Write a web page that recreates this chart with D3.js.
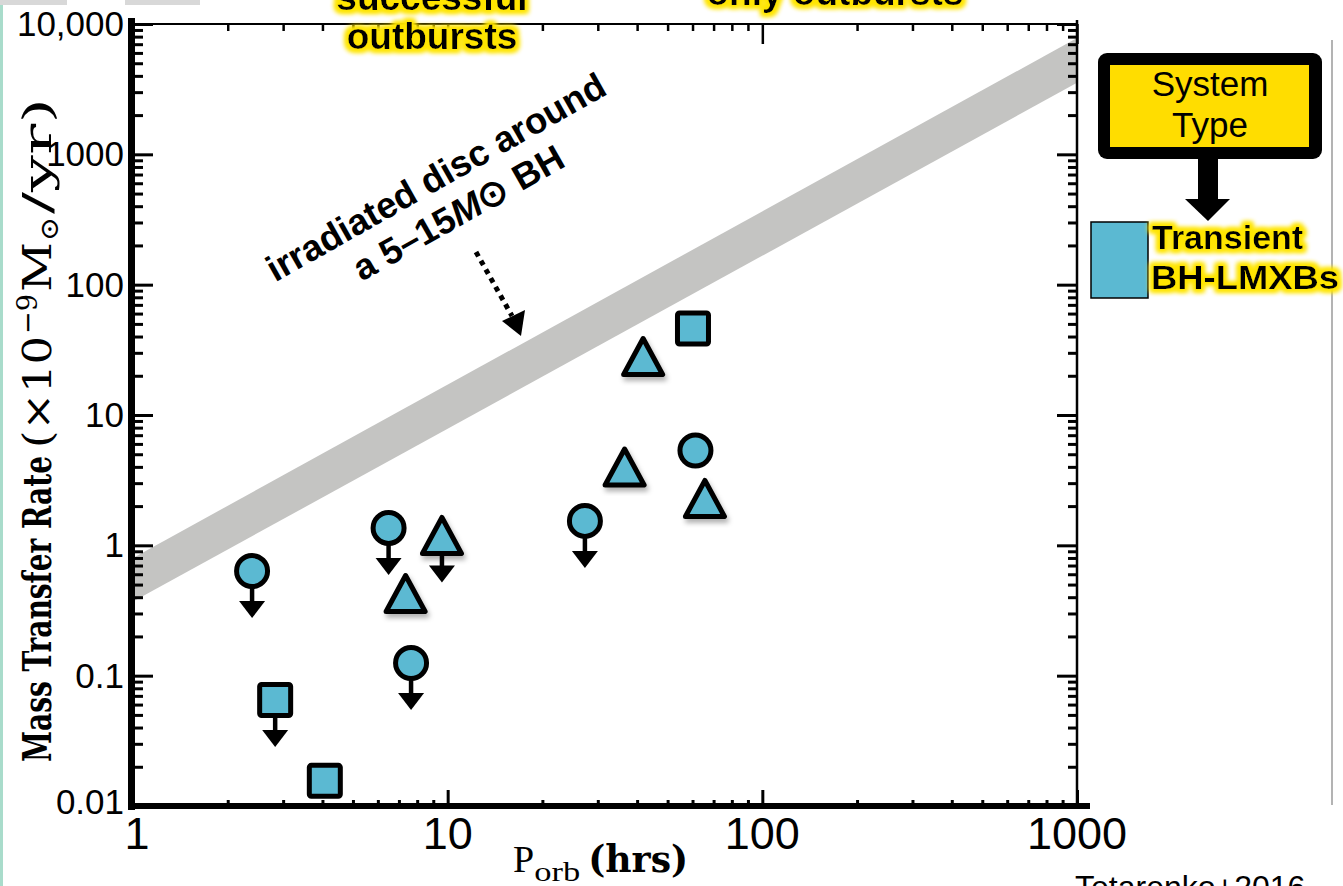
<!DOCTYPE html>
<html>
<head>
<meta charset="utf-8">
<script src="https://cdn.jsdelivr.net/npm/d3@7"></script>
<style>
  body { margin: 0; background: #fff; }
  svg { display: block; }
</style>
</head>
<body>
<svg id="chart" width="1343" height="886"></svg>
<script>
// data (P_orb in hrs, mass transfer rate in 1e-9 Msun/yr)
const periods = [2.39, 2.83, 4.07, 6.49, 7.35, 9.59, 7.65, 27.3, 36.5, 41.8, 60.2, 61.3, 65.7];
const rates = [0.635, 0.065, 0.0156, 1.36, 0.427, 1.19, 0.125, 1.54, 3.99, 28.1, 46.1, 5.34, 2.29];
const shapes = ["circle", "square", "square", "circle", "triangle", "triangle", "circle",
    "circle", "triangle", "triangle", "square", "circle", "triangle"];
const upperLimits = [true, true, false, true, false, true, true, true, false, false, false, false, false];

// irradiated disc band edges
const bandPeriods = [1, 1000];
const bandUpper = [0.80, 7800];
const bandLower = [0.37, 3540];

const xTickLabels = ["1", "10", "100", "1000"];
const yTickLabels = ["0.01", "0.1", "1", "10", "100", "1000", "10,000"];

const svg = d3.select("#chart");
const markerFill = "#5bb9d2";

const x = d3.scaleLog().domain([1, 1000]).range([133, 1077]);
const y = d3.scaleLog().domain([0.01, 10000]).range([806, 24]);

// filters
const defs = svg.append("defs");
const glow = defs.append("filter").attr("id", "glow")
    .attr("x", "-20%").attr("y", "-50%").attr("width", "140%").attr("height", "200%");
glow.append("feMorphology").attr("in", "SourceAlpha").attr("operator", "dilate").attr("radius", 3).attr("result", "d");
glow.append("feGaussianBlur").attr("in", "d").attr("stdDeviation", 2.5).attr("result", "b");
glow.append("feFlood").attr("flood-color", "#ffe500");
glow.append("feComposite").attr("in2", "b").attr("operator", "in").attr("result", "g");
const gm = glow.append("feMerge");
gm.append("feMergeNode").attr("in", "g");
gm.append("feMergeNode").attr("in", "g");
gm.append("feMergeNode").attr("in", "SourceGraphic");

const shadow = defs.append("filter").attr("id", "shadow")
    .attr("x", "-30%").attr("y", "-30%").attr("width", "160%").attr("height", "160%");
shadow.append("feDropShadow").attr("dx", 2).attr("dy", 4).attr("stdDeviation", 2.5)
    .attr("flood-color", "#000").attr("flood-opacity", 0.3);

// page decorations
svg.append("rect").attr("x", 0).attr("y", 0).attr("width", 3).attr("height", 886).attr("fill", "#a9dccb");
svg.append("rect").attr("x", 0).attr("y", 0).attr("width", 67).attr("height", 5).attr("fill", "#d8d8d8");
svg.append("rect").attr("x", 125).attr("y", 0).attr("width", 75).attr("height", 5).attr("fill", "#d8d8d8");
svg.append("line").attr("x1", 1332).attr("x2", 1332).attr("y1", 40).attr("y2", 805)
    .attr("stroke", "#9a9a9a").attr("stroke-width", 1.5);

// band
const bandData = bandPeriods.map((p, i) => ({ p: p, hi: bandUpper[i], lo: bandLower[i] }));
const plotClip = defs.append("clipPath").attr("id", "plotclip");
plotClip.append("rect").attr("x", x(1)).attr("y", y(10000))
    .attr("width", x(1000) - x(1)).attr("height", y(0.01) - y(10000));
svg.append("path").datum(bandData)
    .attr("clip-path", "url(#plotclip)")
    .attr("d", d3.area().x(d => x(d.p)).y0(d => y(d.lo)).y1(d => y(d.hi)))
    .attr("fill", "#c4c4c2");

// axes
const isMajor = v => Math.abs(Math.log10(v) - Math.round(Math.log10(v))) < 1e-6;
const xt = x.ticks();
const yt = y.ticks();

function drawAxis(axisFn, scale, ticks, majorLen, minorLen, transform, width) {
    const g = svg.append("g").attr("transform", transform);
    g.call(axisFn(scale).tickValues(ticks.filter(isMajor)).tickSize(majorLen).tickFormat(""));
    const g2 = svg.append("g").attr("transform", transform);
    g2.call(axisFn(scale).tickValues(ticks.filter(v => !isMajor(v))).tickSize(minorLen).tickFormat(""));
    [g, g2].forEach(a => {
        a.select(".domain").remove();
        a.selectAll(".tick line").attr("stroke", "#000").attr("stroke-width", width);
    });
}
drawAxis(d3.axisTop, x, xt, 16, 6, "translate(0,806)", 3);
drawAxis(d3.axisBottom, x, xt, 20, 7, "translate(0,24)", 2.5);
drawAxis(d3.axisRight, y, yt, 20, 10, "translate(133,0)", 3);
drawAxis(d3.axisLeft, y, yt, 20, 9, "translate(1077,0)", 3);

svg.append("line").attr("x1", 133).attr("x2", 1077).attr("y1", 24).attr("y2", 24)
    .attr("stroke", "#000").attr("stroke-width", 2);
svg.append("line").attr("x1", 1077).attr("x2", 1077).attr("y1", 20).attr("y2", 808)
    .attr("stroke", "#000").attr("stroke-width", 2.5);
svg.append("line").attr("x1", 131.5).attr("x2", 131.5).attr("y1", 18).attr("y2", 810)
    .attr("stroke", "#000").attr("stroke-width", 7);
svg.append("line").attr("x1", 128).attr("x2", 1090).attr("y1", 806).attr("y2", 806)
    .attr("stroke", "#000").attr("stroke-width", 6);

// tick labels
xt.filter(isMajor).forEach((v, i) => {
    svg.append("text").attr("x", x(v) + (i === 0 ? 4 : 0)).attr("y", 849)
        .attr("text-anchor", "middle")
        .attr("font-family", "Liberation Sans, Arial, sans-serif")
        .attr("font-size", 45)
        .text(xTickLabels[i]);
});
yt.filter(isMajor).forEach((v, i) => {
    svg.append("text").attr("x", 124).attr("y", y(v) + (i === 0 ? 8 : 12))
        .attr("text-anchor", "end")
        .attr("font-family", "Liberation Sans, Arial, sans-serif")
        .attr("font-size", 35)
        .text(yTickLabels[i]);
});

// axis titles
const yTitle = svg.append("text")
    .attr("transform", "translate(51,762) rotate(-90)")
    .attr("font-family", "DejaVu Serif, Liberation Serif, serif")
    .attr("font-size", 40);
yTitle.append("tspan").attr("x", 0).attr("font-weight", "bold")
    .attr("textLength", 306).attr("lengthAdjust", "spacingAndGlyphs").text("Mass Transfer Rate");
yTitle.append("tspan").attr("x", 314)
    .attr("textLength", 112).attr("lengthAdjust", "spacingAndGlyphs").text("(×10");
yTitle.append("tspan").attr("x", 428).attr("dy", -14).attr("font-size", 28)
    .attr("textLength", 40).attr("lengthAdjust", "spacingAndGlyphs").text("−9");
yTitle.append("tspan").attr("x", 470).attr("dy", 14)
    .attr("textLength", 50).attr("lengthAdjust", "spacingAndGlyphs").text("M");
yTitle.append("tspan").attr("x", 521).attr("dy", 7).attr("font-size", 26)
    .attr("textLength", 24).attr("lengthAdjust", "spacingAndGlyphs").text("⊙");
yTitle.append("tspan").attr("x", 548).attr("dy", -7)
    .attr("textLength", 116).attr("lengthAdjust", "spacingAndGlyphs").text("/yr)");

const xTitle = svg.append("text").attr("x", 513).attr("y", 872)
    .attr("font-family", "Liberation Serif, Times New Roman, serif")
    .attr("font-size", 38);
xTitle.append("tspan").text("P");
xTitle.append("tspan").attr("dy", 9).attr("font-size", 27).attr("textLength", 46)
    .attr("lengthAdjust", "spacingAndGlyphs").text("orb");
xTitle.append("tspan").attr("dy", -9).attr("dx", 8).attr("font-weight", "bold")
    .attr("font-family", "DejaVu Serif, Liberation Serif, serif")
    .attr("textLength", 100).attr("lengthAdjust", "spacingAndGlyphs").text("(hrs)");

// irradiation annotation
const ann = svg.append("g").attr("transform", "translate(442,188) rotate(-29.5)")
    .attr("font-family", "Liberation Sans, Arial, sans-serif")
    .attr("font-weight", "bold").attr("font-size", 36.5).attr("text-anchor", "middle");
ann.append("text").attr("x", 0).attr("y", 0).text("irradiated disc around");
const ann2 = ann.append("text").attr("x", 2).attr("y", 42);
ann2.append("tspan").text("a 5–15");
ann2.append("tspan").attr("font-style", "italic").text("M");
ann2.append("tspan").text("⊙ BH");

svg.append("line").attr("x1", 476).attr("y1", 252).attr("x2", 512).attr("y2", 316)
    .attr("stroke", "#000").attr("stroke-width", 5).attr("stroke-dasharray", "5,5");
svg.append("path").attr("d", "M502,321 L525,310 L521,336 Z").attr("fill", "#000");

// data markers
const pts = periods.map((p, i) => ({ p: p, r: rates[i], shape: shapes[i], ul: upperLimits[i] }));
const arrows = svg.append("g");
pts.filter(d => d.ul).forEach(d => {
    const cx = x(d.p), cy = y(d.r);
    arrows.append("line").attr("x1", cx).attr("x2", cx).attr("y1", cy).attr("y2", cy + 32)
        .attr("stroke", "#000").attr("stroke-width", 4.5);
    arrows.append("path")
        .attr("d", `M${cx - 13},${cy + 30} L${cx + 13},${cy + 30} L${cx},${cy + 47} Z`)
        .attr("fill", "#000");
});

const marks = svg.append("g");
pts.forEach(d => {
    const cx = x(d.p), cy = y(d.r);
    if (d.shape === "circle") {
        marks.append("circle").attr("cx", cx).attr("cy", cy).attr("r", 15.5)
            .attr("fill", markerFill).attr("stroke", "#000").attr("stroke-width", 5);
    } else if (d.shape === "square") {
        marks.append("rect").attr("x", cx - 15.5).attr("y", cy - 15.5)
            .attr("width", 31).attr("height", 31).attr("rx", 2)
            .attr("fill", markerFill).attr("stroke", "#000").attr("stroke-width", 5)
            .attr("stroke-linejoin", "round");
    } else {
        marks.append("path")
            .attr("d", `M${cx},${cy - 18} L${cx + 19.5},${cy + 18} L${cx - 19.5},${cy + 18} Z`)
            .attr("fill", markerFill).attr("stroke", "#000").attr("stroke-width", 5)
            .attr("stroke-linejoin", "round").attr("filter", "url(#shadow)");
    }
});

// labels cut off at the top edge, as in the source figure
const topText = svg.append("g").attr("font-family", "Liberation Sans, Arial, sans-serif")
    .attr("font-weight", "bold").attr("font-size", 37).attr("text-anchor", "middle")
    .attr("filter", "url(#glow)");
topText.append("text").attr("x", 432).attr("y", 10).text("successful");
topText.append("text").attr("x", 432).attr("y", 49).text("outbursts");
topText.append("text").attr("x", 835).attr("y", 5).text("only outbursts");

// legend
svg.append("rect").attr("x", 1098).attr("y", 53).attr("width", 224).attr("height", 106)
    .attr("rx", 9).attr("fill", "#000");
svg.append("rect").attr("x", 1110).attr("y", 65).attr("width", 199).attr("height", 82)
    .attr("fill", "#ffdd00");
svg.append("text").attr("x", 1210).attr("y", 96).attr("text-anchor", "middle")
    .attr("font-family", "Liberation Sans, Arial, sans-serif").attr("font-size", 35).text("System");
svg.append("text").attr("x", 1210).attr("y", 137).attr("text-anchor", "middle")
    .attr("font-family", "Liberation Sans, Arial, sans-serif").attr("font-size", 35).text("Type");
svg.append("rect").attr("x", 1198).attr("y", 157).attr("width", 20).attr("height", 45).attr("fill", "#000");
svg.append("path").attr("d", "M1185,199 L1230,199 L1208,221 Z").attr("fill", "#000");
svg.append("rect").attr("x", 1091).attr("y", 222).attr("width", 57).attr("height", 76)
    .attr("fill", markerFill).attr("stroke", "#000").attr("stroke-width", 1.5);
const legText = svg.append("g").attr("font-family", "Liberation Sans, Arial, sans-serif")
    .attr("font-weight", "bold").attr("font-size", 34).attr("filter", "url(#glow)");
legText.append("text").attr("x", 1152).attr("y", 249).text("Transient");
legText.append("text").attr("x", 1151).attr("y", 289).attr("textLength", 188)
    .attr("lengthAdjust", "spacingAndGlyphs").text("BH-LMXBs");

// credit, partly below the bottom edge as in the source
svg.append("text").attr("x", 1075).attr("y", 898)
    .attr("font-family", "Liberation Sans, Arial, sans-serif").attr("font-size", 32)
    .text("Tetarenko+2016");
</script>
</body>
</html>
